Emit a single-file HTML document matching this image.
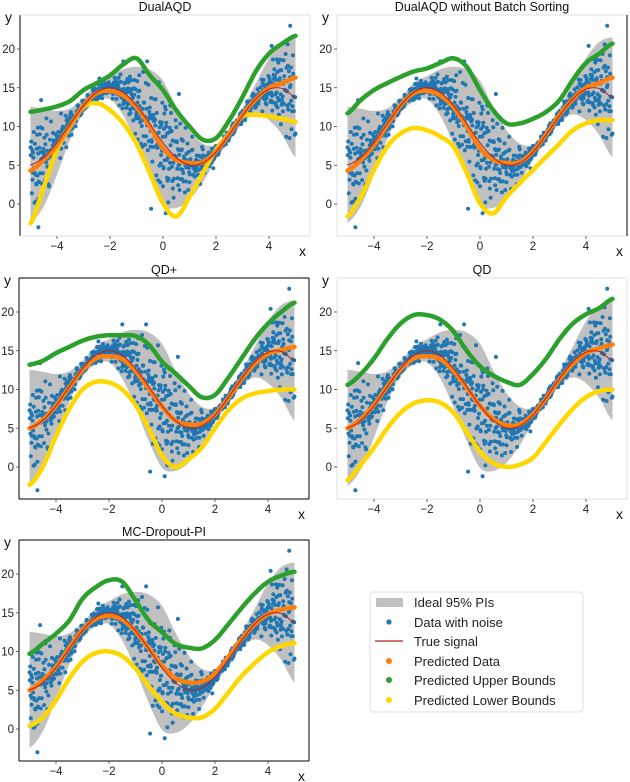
<!DOCTYPE html>
<html><head><meta charset="utf-8"><style>
html,body{margin:0;padding:0;background:#fff;}
svg{display:block;font-family:"Liberation Sans","DejaVu Sans",sans-serif;}
</style></head><body>
<svg id="fig" width="630" height="782" viewBox="0 0 630 782" xmlns="http://www.w3.org/2000/svg">
<g>
<rect x="370" y="592" width="213" height="120" rx="3" fill="#fff" stroke="#ddd" stroke-width="1"/>
<g><rect x="376" y="598" width="27" height="9" fill="#c0c0c0"/><text x="414" y="607" font-size="13" fill="#222">Ideal 95% PIs</text></g>
<g><circle cx="389" cy="622" r="2.6" fill="#1f77b4"/><text x="414" y="627" font-size="13" fill="#222">Data with noise</text></g>
<g><line x1="375" y1="641" x2="403" y2="641" stroke="#b22222" stroke-width="1.2"/><text x="414" y="646" font-size="13" fill="#222">True signal</text></g>
<g><circle cx="389" cy="661" r="3" fill="#ff7f0e"/><text x="414" y="666" font-size="13" fill="#222">Predicted Data</text></g>
<g><circle cx="389" cy="680" r="3" fill="#2ca02c"/><text x="414" y="685" font-size="13" fill="#222">Predicted Upper Bounds</text></g>
<g><circle cx="389" cy="700" r="3" fill="#ffd700"/><text x="414" y="705" font-size="13" fill="#222">Predicted Lower Bounds</text></g>
</g>
</svg>
<script>
const xs = [-5,-4.5,-4,-3.5,-3,-2.5,-2,-1.5,-1,-0.5,0,0.5,1,1.5,2,2.5,3,3.5,4,4.5,5];
const xTicks = [-4,-2,0,2,4];
const yTicks = [0,5,10,15,20];
const trueSignal = [5.05,6.0,7.9,10.35,12.7,14.4,15.0,14.4,12.7,10.35,7.9,6.0,5.05,5.3,6.7,8.95,11.4,13.55,14.8,14.9,13.75];
const bandHalf = [7.5,6.3,4.1,2.0,1.0,1.2,1.5,3.0,5.0,7.0,8.0,6.5,4.5,2.5,1.0,0.8,1.0,2.0,4.0,6.0,7.75];

const predDualAQD = [4.3,5.7,7.6,10.2,12.7,14.3,14.6,14.0,12.5,10.0,7.2,5.7,5.3,5.4,6.8,9.0,11.5,13.5,15.0,15.6,16.3];
const upperDualAQD = [11.9,12.2,12.6,13.3,14.7,15.6,16.6,18.0,18.8,16.6,14.7,12.1,10.0,8.3,8.5,10.8,13.8,17.1,19.4,20.7,21.7];
const lowerDualAQD = [-2.5,2.2,7.0,10.0,12.5,13.0,12.1,10.4,7.8,4.0,0.1,-1.6,0.9,4.0,7.0,9.1,11.3,11.5,11.3,11.0,10.6];

const predNoSort = [4.3,5.7,7.6,10.2,12.7,14.3,14.6,14.0,12.5,10.0,7.2,5.7,5.3,5.4,6.8,9.0,11.5,13.5,15.0,15.6,16.3];
const upperNoSort = [11.7,13.4,14.7,15.6,16.4,17.1,17.5,18.2,18.8,17.7,14.7,12.1,10.4,10.4,11.0,11.9,13.4,16.0,18.2,19.4,20.7];
const lowerNoSort = [-1.6,0.9,4.4,7.4,9.1,9.8,9.5,8.7,7.4,4.0,0.1,-1.2,0.9,2.7,4.4,6.1,7.8,9.5,10.4,10.8,10.8];

const predQDplus = [5.0,6.1,7.9,10.3,12.5,14.0,14.3,13.9,12.4,10.1,7.8,6.0,5.5,5.6,6.8,8.9,11.3,13.3,14.6,15.1,15.5];
const upperQDplus = [13.2,13.7,14.7,15.5,16.3,16.8,17.0,17.0,16.9,15.8,13.6,12.1,10.5,9.0,9.3,11.5,14.0,16.5,18.5,20.0,21.2];
const lowerQDplus = [-2.3,0.0,4.0,7.5,10.0,11.0,10.9,10.0,8.0,5.0,1.5,0.0,1.0,2.5,5.0,7.3,8.8,9.5,9.8,10.0,10.0];

const predQD = [5.0,6.2,8.0,10.4,12.6,14.0,14.3,13.9,12.4,10.2,7.9,6.2,5.4,5.5,6.8,8.9,11.3,13.3,14.7,15.3,15.8];
const upperQD = [10.6,12.0,14.0,16.5,18.5,19.6,19.6,19.0,17.5,15.0,13.0,11.8,11.0,10.6,12.0,14.0,16.5,18.5,19.7,20.5,21.7];
const lowerQD = [-1.7,0.3,2.5,5.0,7.0,8.2,8.6,8.3,7.0,4.5,2.0,0.5,0.0,0.3,1.2,3.3,5.5,7.5,9.0,9.8,10.0];

const predMC = [5.0,6.3,8.0,10.5,12.8,14.2,14.6,14.1,12.6,10.4,8.2,6.6,6.0,6.1,7.2,9.3,11.6,13.5,14.8,15.4,15.7];
const upperMC = [9.7,11.0,12.3,14.0,16.8,18.3,19.2,19.0,16.6,14.0,12.5,11.0,10.5,10.4,11.5,13.5,15.6,17.5,19.0,19.8,20.3];
const lowerMC = [0.4,1.5,3.7,6.5,8.7,9.8,10.0,9.4,7.8,5.5,3.5,2.0,1.5,1.5,2.6,4.7,6.8,8.5,9.9,10.7,11.1];

const noiseA = [0.3,-0.6,0.8,-0.2,0.5,-0.9,0.1,0.7,-0.4,0.2,-0.7,0.9,-0.1,0.4,-0.5,0.6,-0.8,0.0,0.3,-0.3,0.8,-0.6,0.2,-0.9,0.5,0.1,-0.2,0.7,-0.5,0.4,-0.1,0.6,-0.7,0.3,-0.4,0.9,-0.8,0.2,0.5,-0.3,0.1,-0.6,0.7,-0.2,0.4,-0.9,0.8,0.0,-0.5,0.3,0.6,-0.4,0.2,-0.7,0.9,-0.1,0.5,-0.8,0.3,-0.2,0.7,-0.5,0.1,0.4,-0.6,0.8,-0.3,0.2,-0.9,0.6,-0.1,0.5,-0.4,0.3,-0.7,0.9,0.0,-0.2,0.6,-0.8,0.4,-0.3,0.7,-0.5,0.1,0.8,-0.6,0.2,-0.1,0.5,-0.9,0.3,-0.4,0.6,-0.2,0.7,-0.7,0.1,0.4,-0.5,0.2];
const noiseB = [-0.5,0.2,-0.1,0.9,-0.7,0.4,-0.3,0.6,0.0,-0.8,0.5,-0.2,0.7,-0.6,0.1,-0.4,0.8,-0.9,0.3,0.6,-0.1,0.4,-0.7,0.2,-0.3,0.9,-0.5,0.0,0.6,-0.8,0.3,-0.2,0.5,-0.6,0.8,-0.1,0.4,-0.7,0.1,0.9,-0.4,0.2,-0.5,0.7,-0.8,0.3,-0.1,0.6,-0.3,0.5,-0.9,0.1,0.8,-0.2,0.4,-0.6,0.7,0.0,-0.4,0.9,-0.3,0.2,-0.7,0.5,-0.1,0.6,-0.8,0.3,0.1,-0.5,0.8,-0.4,0.2,-0.6,0.5,-0.2,0.7,-0.9,0.3,0.0,-0.7,0.6,-0.1,0.4,-0.5,0.9,-0.3,0.2,-0.8,0.5,0.1,-0.6,0.7,-0.2,0.4,-0.9,0.3,0.8,-0.4,0.0,-0.3];
const outlierX = [4.8,-4.7,-1.5,0.6,-0.6,-0.35,-0.45,-4.6,4.1,-2.4,0.1,1.9];
const outlierY = [23.0,-3.0,18.4,14.2,18.4,3.0,-0.6,13.4,20.4,16.2,-1.2,4.6];

const panels = [
 {name:'dualaqd', title:'DualAQD', L:20, T:15, pred:predDualAQD, up:upperDualAQD, lo:lowerDualAQD, box:'left'},
 {name:'dualaqd-no-sort', title:'DualAQD without Batch Sorting', L:337, T:15, pred:predNoSort, up:upperNoSort, lo:lowerNoSort, box:'right'},
 {name:'qd-plus', title:'QD+', L:19, T:278, pred:predQDplus, up:upperQDplus, lo:lowerQDplus, box:'full'},
 {name:'qd', title:'QD', L:337, T:278, pred:predQD, up:upperQD, lo:lowerQD, box:'none'},
 {name:'mc-dropout', title:'MC-Dropout-PI', L:19, T:540, pred:predMC, up:upperMC, lo:lowerMC, box:'full'}
];

const NS='http://www.w3.org/2000/svg';
const svg=document.getElementById('fig');
const legend=svg.firstElementChild;
function mk(tag,attrs,parent){const e=document.createElementNS(NS,tag);for(const k in attrs)e.setAttribute(k,attrs[k]);parent.appendChild(e);return e;}
function interp(arr,x){
  const t=(x-xs[0])/(xs[1]-xs[0]);let i=Math.floor(t);if(i<0)i=0;if(i>arr.length-2)i=arr.length-2;
  const u=t-i;const p0=arr[Math.max(i-1,0)],p1=arr[i],p2=arr[i+1],p3=arr[Math.min(i+2,arr.length-1)];
  return 0.5*((2*p1)+(-p0+p2)*u+(2*p0-5*p1+4*p2-p3)*u*u+(-p0+3*p1-3*p2+p3)*u*u*u);
}
const W=290,H=221;
panels.forEach(p=>{
  const sx=x=>p.L+143+26.5*x;
  const sy=v=>p.T+189-7.75*v;
  const g=mk('g',{},svg);
  
  
  svg.insertBefore(g,legend);
  const samples=[];for(let k=0;k<=200;k++)samples.push(xs[0]+k*(xs[xs.length-1]-xs[0])/200);
  let d='';
  samples.forEach((x,k)=>{d+=(k?'L':'M')+sx(x).toFixed(1)+','+sy(interp(trueSignal,x)+interp(bandHalf,x)).toFixed(1);});
  for(let k=samples.length-1;k>=0;k--){const x=samples[k];d+='L'+sx(x).toFixed(1)+','+sy(interp(trueSignal,x)-interp(bandHalf,x)).toFixed(1);}
  const band=mk('path',{d:d+'Z',fill:'#c0c0c0'},g);
  
  
  const sg=mk('g',{fill:'#1f77b4'},g);
  
  
  const addPt=(x,v)=>{if(x>5||x<-5)return;const c=mk('circle',{cx:sx(x).toFixed(1),cy:sy(v).toFixed(1),r:2.0},sg);
    
    };
  const layers=[[noiseA,-5,1],[noiseB,-4.95,1],[noiseB,-4.975,-0.8],[noiseA,-4.925,-0.9],[noiseA,-4.9875,0.55],[noiseB,-4.9375,-0.5],[noiseA,-4.9625,-0.35],[noiseB,-4.9125,0.3]];
  layers.forEach(([arr,x0,s])=>{
    arr.forEach((r,i)=>{const k=(i*37)%arr.length;const x=x0+i*0.1;addPt(x,interp(trueSignal,x)+s*arr[k]*interp(bandHalf,x));});
  });
  outlierX.forEach((x,i)=>addPt(x,outlierY[i]));
  const line=(arr,color,w,name)=>{let dd='';samples.forEach((x,k)=>{dd+=(k?'L':'M')+sx(x).toFixed(1)+','+sy(interp(arr,x)).toFixed(1);});
    const e=mk('path',{d:dd,fill:'none',stroke:color,'stroke-width':w,'stroke-linecap':'round','stroke-linejoin':'round'},g);
    
    };
  line(p.up,'#2ca02c',4.5,'upper-bound-line');
  line(p.lo,'#ffd700',4.5,'lower-bound-line');
  line(p.pred,'#ff7f0e',4.5,'predicted-line');
  line(trueSignal,'#b22222',1,'true-signal-line');
  const faint='#e2e2e2',dark='#000';
  const sp=(x1,y1,x2,y2,c,n)=>{const e=mk('line',{x1,y1,x2,y2,stroke:c,'stroke-width':1},g);
    
    };
  sp(p.L,p.T,p.L,p.T+H,(p.box==='left'||p.box==='full')?dark:faint,'left-spine');
  sp(p.L,p.T+H,p.L+W,p.T+H,(p.box==='full')?dark:faint,'bottom-spine');
  sp(p.L,p.T,p.L+W,p.T,(p.box==='full')?dark:faint,'top-spine');
  sp(p.L+W,p.T,p.L+W,p.T+H,(p.box==='right'||p.box==='full')?dark:faint,'right-spine');
  xTicks.forEach(t=>{const e=mk('text',{x:sx(t),y:p.T+H+14,'font-size':11.5,'text-anchor':'middle',fill:'#222'},g);e.textContent=(t<0?'\u2212'+(-t):t);
    
    
    mk('line',{x1:sx(t),y1:p.T+H,x2:sx(t),y2:p.T+H+3,stroke:'#444','stroke-width':0.8},g);});
  yTicks.forEach(t=>{const e=mk('text',{x:p.L-5,y:sy(t)+4,'font-size':11.5,'text-anchor':'end',fill:'#222'},g);e.textContent=t;
    
    
    mk('line',{x1:p.L-3,y1:sy(t),x2:p.L,y2:sy(t),stroke:'#444','stroke-width':0.8},g);});
  const tt=mk('text',{x:p.L+145,y:p.T-4,'font-size':12.5,'text-anchor':'middle',fill:'#111'},g);tt.textContent=p.title;
  
  
  const yl=mk('text',{x:p.L-15,y:p.T+7,'font-size':14,fill:'#111'},g);yl.textContent='y';
  
  
  const xl=mk('text',{x:p.L+W-11,y:p.T+H+20,'font-size':14,fill:'#111'},g);xl.textContent='x';
  
  
});
</script>
</body></html>
